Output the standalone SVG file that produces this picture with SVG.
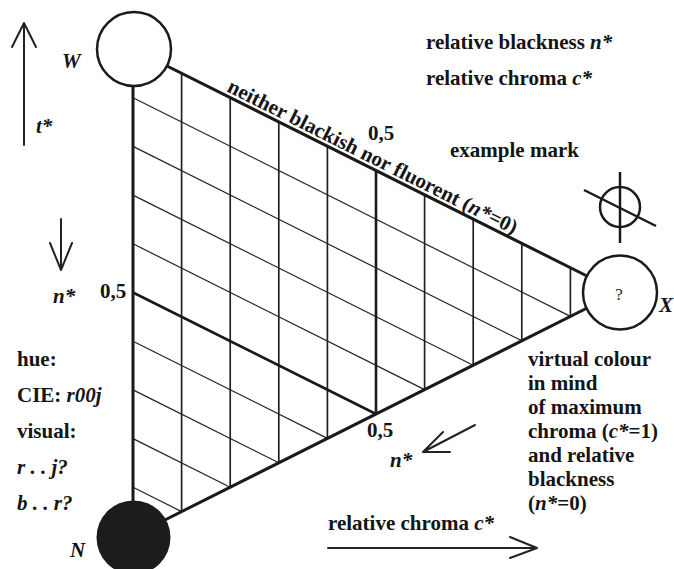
<svg xmlns="http://www.w3.org/2000/svg" width="674" height="569" viewBox="0 0 674 569">
<style>
.t{font-family:"Liberation Serif","Times New Roman",serif;font-weight:bold;font-size:21px;fill:#151515}
.i{font-style:italic}
.edge{stroke:#1a1a1a;stroke-width:3;fill:none;stroke-linecap:round}
.half{stroke:#1a1a1a;stroke-width:2.6;fill:none}
.gv{stroke:#222;stroke-width:1.7;fill:none}
.gd{stroke:#222;stroke-width:1.2;fill:none}
.ar{stroke:#222;stroke-width:2;fill:none;stroke-linecap:round;stroke-linejoin:round}
.nd{stroke:#1a1a1a;stroke-width:2.5}
</style>
<rect width="674" height="569" fill="#fff"/>
<g id="grid">
<g class="gv">
<line x1="181.6" y1="73.3" x2="181.6" y2="511.6"/>
<line x1="230.2" y1="97.6" x2="230.2" y2="487.2"/>
<line x1="278.8" y1="121.9" x2="278.8" y2="462.8"/>
<line x1="327.4" y1="146.2" x2="327.4" y2="438.4"/>
<line x1="424.6" y1="194.8" x2="424.6" y2="389.6"/>
<line x1="473.2" y1="219.1" x2="473.2" y2="365.2"/>
<line x1="521.8" y1="243.4" x2="521.8" y2="340.8"/>
<line x1="570.4" y1="267.7" x2="570.4" y2="316.4"/>
</g>
<g class="gd">
<line x1="133" y1="97.7" x2="570.4" y2="316.4"/>
<line x1="133" y1="146.4" x2="521.8" y2="340.8"/>
<line x1="133" y1="195.1" x2="473.2" y2="365.2"/>
<line x1="133" y1="243.8" x2="424.6" y2="389.6"/>
<line x1="133" y1="341.2" x2="327.4" y2="438.4"/>
<line x1="133" y1="389.9" x2="278.8" y2="462.8"/>
<line x1="133" y1="438.6" x2="230.2" y2="487.2"/>
<line x1="133" y1="487.3" x2="181.6" y2="511.6"/>
</g>
<g class="half">
<line x1="376" y1="170.5" x2="376" y2="414"/>
<line x1="133" y1="292.5" x2="376" y2="414"/>
</g>
<g class="edge">
<line x1="133" y1="49" x2="133" y2="536"/>
<line x1="133" y1="49" x2="619" y2="292"/>
<line x1="133" y1="536" x2="619" y2="292"/>
</g>
</g>
<g id="connectors">
<path class="ar" d="M24 145V23M12 47L24 23L36 47"/>
<path class="ar" d="M61 219V270M50 243L61 270L72 243"/>
<path class="ar" d="M475 425L423 452M443 432L423 452L450 452"/>
<path class="ar" d="M328 548H537M510 537L537 548L510 558"/>
</g>
<g id="node-W">
<circle class="nd" cx="134" cy="49" r="37" fill="#fff"/>
<text class="t i" x="62" y="68">W</text>
</g>
<g id="node-X">
<circle class="nd" cx="620" cy="292.5" r="37" fill="#fff"/>
<text x="619" y="300" text-anchor="middle" style="font-family:'Liberation Serif',serif;font-size:17px;fill:#222">?</text>
<text class="t i" x="659" y="312">X</text>
</g>
<g id="node-N">
<circle cx="133.5" cy="537.5" r="37" fill="#1c1c1c"/>
<text class="t i" x="70" y="557">N</text>
</g>
<g id="example-mark">
<circle cx="620" cy="207" r="20" fill="none" stroke="#1a1a1a" stroke-width="2.5"/>
<line x1="620" y1="172" x2="620" y2="243" stroke="#1a1a1a" stroke-width="2.5"/>
<line x1="584" y1="190" x2="656" y2="226" stroke="#1a1a1a" stroke-width="2.5"/>
</g>
<g id="labels">
<text class="t" x="426" y="49">relative blackness <tspan class="i">n*</tspan></text>
<text class="t" x="426" y="85">relative chroma <tspan class="i">c*</tspan></text>
<text class="t" x="450" y="157">example mark</text>
<text class="t" transform="translate(226 91) rotate(26.57)">neither blackish nor fluorent (<tspan class="i">n*</tspan>=0)</text>
<text class="t" x="368" y="140">0,5</text>
<text class="t i" x="36" y="133">t*</text>
<text class="t i" x="53" y="303">n*</text>
<text class="t" x="100" y="298">0,5</text>
<text class="t" x="17" y="366">hue:</text>
<text class="t" x="17" y="402">CIE: <tspan class="i">r00j</tspan></text>
<text class="t" x="17" y="438">visual:</text>
<text class="t i" x="17" y="474">r . . j?</text>
<text class="t i" x="17" y="510">b . . r?</text>
<text class="t" x="367" y="437">0,5</text>
<text class="t i" x="390" y="467">n*</text>
<text class="t" x="328" y="530">relative chroma <tspan class="i">c*</tspan></text>
<text class="t" x="528" y="365.5">virtual colour</text>
<text class="t" x="528" y="389.5">in mind</text>
<text class="t" x="528" y="413.5">of maximum</text>
<text class="t" x="528" y="437.5">chroma (<tspan class="i">c*</tspan>=1)</text>
<text class="t" x="528" y="461.5">and relative</text>
<text class="t" x="528" y="485.5">blackness</text>
<text class="t" x="528" y="509.5">(<tspan class="i">n*</tspan>=0)</text>
</g>
</svg>
